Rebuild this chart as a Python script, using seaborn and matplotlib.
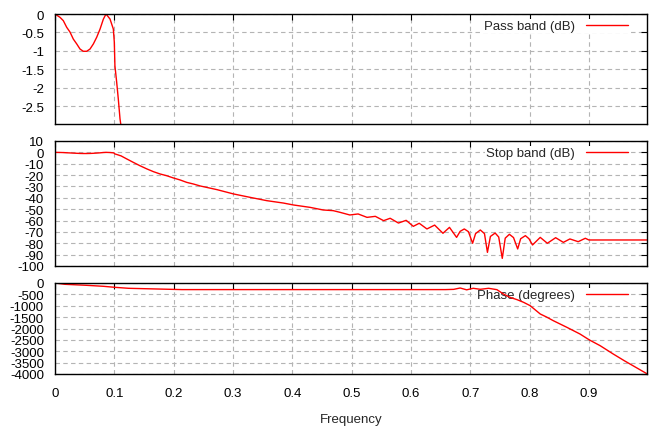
import numpy as np
import pandas as pd
import seaborn as sns
import matplotlib.pyplot as plt
from matplotlib.ticker import FuncFormatter

# magnitude response (same curve in pass and stop band panels)
freq = [0.0, 0.0084, 0.014, 0.0197, 0.0253, 0.0309, 0.0366, 0.0422, 0.0477, 0.0534,
        0.059, 0.0647, 0.0703, 0.0759, 0.0815, 0.086, 0.0927, 0.0983, 0.1, 0.101,
        0.104, 0.1067, 0.1096, 0.111, 0.121, 0.132, 0.143, 0.155, 0.166, 0.177,
        0.188, 0.2, 0.211, 0.222, 0.233, 0.245, 0.273, 0.301, 0.329, 0.357,
        0.385, 0.402, 0.43, 0.452, 0.469, 0.48, 0.497, 0.511, 0.526, 0.54,
        0.554, 0.565, 0.579, 0.592, 0.604, 0.614, 0.627, 0.64, 0.654, 0.665,
        0.677, 0.683, 0.69, 0.697, 0.704, 0.709, 0.717, 0.724, 0.729, 0.734,
        0.742, 0.748, 0.754, 0.759, 0.766, 0.773, 0.78, 0.785, 0.793, 0.799,
        0.805, 0.818, 0.83, 0.844, 0.857, 0.868, 0.882, 0.894, 0.9, 0.998]
mag_db = [0.0, -0.09, -0.18, -0.36, -0.49, -0.68, -0.81, -0.95, -1.01, -1.01,
          -0.95, -0.81, -0.63, -0.41, -0.14, 0.0, -0.135, -0.405, -0.765, -1.4,
          -1.85, -2.3, -2.84, -3.0, -5.8, -8.8, -11.7, -14.6, -17.0, -19.0,
          -20.5, -22.6, -24.3, -26.4, -27.8, -29.6, -32.8, -36.6, -39.6, -42.5,
          -44.6, -46.3, -48.4, -50.7, -51.3, -52.7, -55.1, -54.2, -57.2, -56.3,
          -60.1, -58.0, -62.2, -59.8, -65.1, -62.4, -67.4, -64.0, -71.2, -66.0,
          -74.8, -69.5, -67.4, -69.8, -80.0, -71.5, -68.3, -71.5, -88.0, -74.0,
          -71.0, -74.5, -93.3, -75.5, -72.1, -75.0, -85.0, -76.0, -73.3, -76.0,
          -81.5, -74.8, -80.0, -75.1, -79.2, -76.2, -78.6, -75.6, -77.1, -77.1]

# phase response
phase_freq = [0.0, 0.017, 0.052, 0.0815, 0.101, 0.124, 0.214, 0.658, 0.672, 0.683,
              0.694, 0.705, 0.717, 0.731, 0.745, 0.756, 0.767, 0.779, 0.79, 0.801,
              0.818, 0.829, 0.84, 0.863, 0.885, 0.901, 0.919, 0.941, 0.96, 0.98, 0.998]
phase_deg = [0, -58, -100, -145, -190, -233, -290, -290, -280, -220,
             -300, -233, -277, -233, -293, -483, -630, -733, -850, -996,
             -1362, -1500, -1656, -1949, -2242, -2505, -2755, -3120, -3420, -3720, -3990]

x_ticks = [0, 0.1, 0.2, 0.3, 0.4, 0.5, 0.6, 0.7, 0.8, 0.9]
pass_ticks = [0, -0.5, -1, -1.5, -2, -2.5]
stop_ticks = list(range(10, -101, -10))
phase_ticks = list(range(0, -4001, -500))

mag = pd.DataFrame({"freq": freq, "db": mag_db})
phase = pd.DataFrame({"freq": phase_freq, "deg": phase_deg})

sns.set_style("white")
plt.rcParams['font.family'] = ['Liberation Sans', 'DejaVu Sans']
plt.rcParams['axes.unicode_minus'] = False
FS = 9.5

W, H = 669, 431
fig = plt.figure(figsize=(W / 100, H / 100), dpi=100)

# panel boxes in pixels: (left, top, right, bottom)
boxes = [(55, 15, 647, 125), (55, 142, 647, 267), (55, 284, 647, 375)]
axes = []
for l, t, r, b in boxes:
    ax = fig.add_axes([l / W, 1 - b / H, (r - l) / W, (b - t) / H])
    axes.append(ax)

fmt = FuncFormatter(lambda v, p: "%g" % v)

panels = [
    (axes[0], mag, "db", "Pass band (dB)", (-2.98, 0), pass_ticks),
    (axes[1], mag, "db", "Stop band (dB)", (-100, 10), stop_ticks),
    (axes[2], phase, "deg", "Phase (degrees)", (-4000, 0), phase_ticks),
]

for i, (ax, df, col, lab, ylim, yt) in enumerate(panels):
    sns.lineplot(data=df, x="freq", y=col, ax=ax, color="red", lw=1.0,
                 label=lab, sort=False, estimator=None)
    ax.set_xlim(0, 0.998)
    ax.set_ylim(*ylim)
    ax.set_xticks(x_ticks)
    ax.set_yticks(yt)
    ax.xaxis.set_major_formatter(fmt)
    ax.yaxis.set_major_formatter(fmt)
    ax.grid(True, color="#b4b4b4", linestyle=(0, (4, 3)), linewidth=0.8)
    ax.set_axisbelow(True)
    ax.tick_params(direction="in", length=4, width=0.8, top=True, right=True,
                   pad=8, labelsize=FS, colors="black")
    ax.tick_params(axis="x", pad=9.5)
    for s in ax.spines.values():
        s.set_color("black")
        s.set_linewidth(1.0)
    ax.set_ylabel("")
    if i < 2:
        ax.set_xlabel("")
        ax.tick_params(labelbottom=False)
    else:
        ax.set_xlabel("Frequency", fontsize=FS, labelpad=10)

    h_px = boxes[i][3] - boxes[i][1]
    leg = ax.legend(loc="center right", bbox_to_anchor=(0.970, 1 - 12 / h_px),
                    frameon=True, markerfirst=False, handlelength=3.2,
                    handletextpad=0.8, borderpad=0.1, borderaxespad=0,
                    fontsize=FS, fancybox=False)
    leg.get_frame().set_facecolor("white")
    leg.get_frame().set_edgecolor("none")
    leg.get_frame().set_alpha(1)
    leg.set_zorder(1.5)

fig.savefig("out.png", dpi=100)
